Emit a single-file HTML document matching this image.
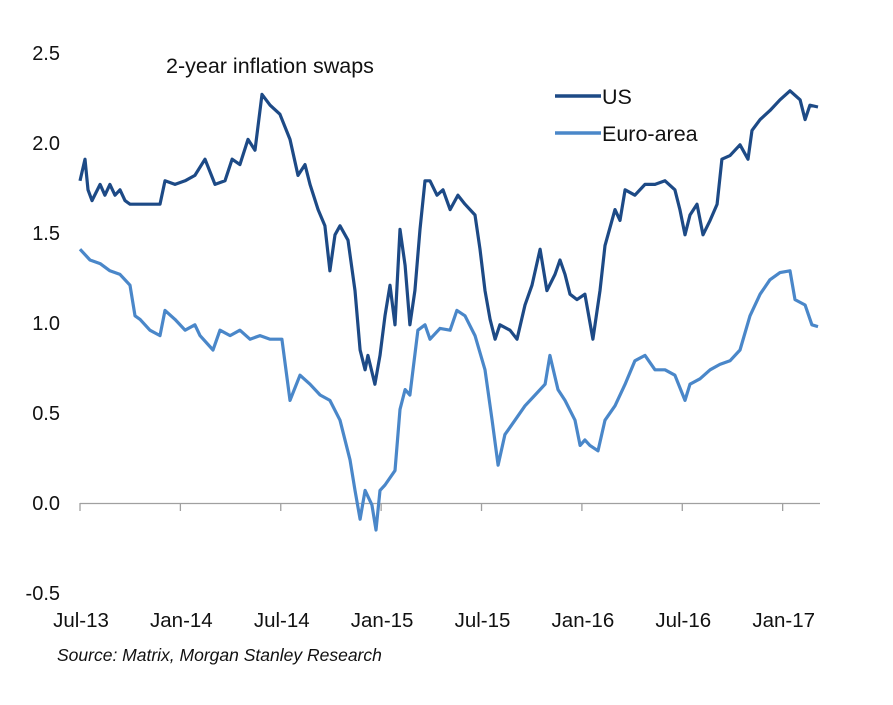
<!DOCTYPE html>
<html><head><meta charset="utf-8"><style>
body{margin:0;background:#fff;}
svg text{font-family:"Liberation Sans",Arial,sans-serif;fill:#111;}
</style></head><body>
<svg id="chart" width="893" height="700" viewBox="0 0 893 700" xmlns="http://www.w3.org/2000/svg">
<text x="166" y="73" font-size="21.5">2-year inflation swaps</text>
<g id="yaxis"></g>
<g id="xaxis"></g>
<g id="series"></g>
<g>
<line x1="555" y1="96" x2="601" y2="96" stroke="#1d4a86" stroke-width="3.5"/>
<text x="602" y="104" font-size="21.5">US</text>
<line x1="555" y1="133" x2="601" y2="133" stroke="#4a87c9" stroke-width="3.5"/>
<text x="602" y="141" font-size="21.5">Euro-area</text>
</g>
<text x="57" y="661" font-size="17.5" font-style="italic">Source: Matrix,  Morgan Stanley Research</text>
</svg>
<script>
const yTicks=[2.5,2.0,1.5,1.0,0.5,0.0,-0.5];
const xTickLabels=["Jul-13","Jan-14","Jul-14","Jan-15","Jul-15","Jan-16","Jul-16","Jan-17"];
const usMonths=[0,.3,.48,.72,1.2,1.49,1.79,2.09,2.39,2.69,2.99,3.59,4.18,4.78,5.08,5.68,6.28,6.87,7.47,8.07,8.67,9.09,9.56,10.04,10.46,10.88,11.36,11.95,12.55,13.03,13.45,13.75,14.23,14.64,14.94,15.24,15.54,16.02,16.44,16.74,17.04,17.21,17.63,17.93,18.23,18.53,18.83,19.13,19.43,19.72,20.02,20.32,20.62,20.92,21.34,21.7,22.12,22.59,23.01,23.61,23.91,24.21,24.51,24.81,25.1,25.7,26.12,26.6,27.02,27.5,27.91,28.39,28.69,28.99,29.29,29.71,30.18,30.66,31.08,31.38,31.98,32.28,32.58,33.17,33.77,34.37,34.97,35.56,35.86,36.16,36.46,36.88,37.24,37.66,38.08,38.37,38.85,39.45,39.93,40.17,40.65,41.24,41.84,42.44,43.04,43.34,43.63,44.11];
const usValues=[1.79,1.91,1.74,1.68,1.77,1.71,1.77,1.71,1.74,1.68,1.66,1.66,1.66,1.66,1.79,1.77,1.79,1.82,1.91,1.77,1.79,1.91,1.88,2.02,1.96,2.27,2.21,2.16,2.02,1.82,1.88,1.77,1.63,1.54,1.29,1.49,1.54,1.46,1.18,0.85,0.74,0.82,0.66,0.82,1.04,1.21,0.99,1.52,1.32,0.99,1.18,1.52,1.79,1.79,1.71,1.74,1.63,1.71,1.66,1.6,1.41,1.18,1.02,0.91,0.99,0.96,0.91,1.1,1.21,1.41,1.18,1.27,1.35,1.27,1.16,1.13,1.16,0.91,1.18,1.43,1.63,1.57,1.74,1.71,1.77,1.77,1.79,1.74,1.63,1.49,1.6,1.66,1.49,1.57,1.66,1.91,1.93,1.99,1.91,2.07,2.13,2.18,2.24,2.29,2.24,2.13,2.21,2.2];
const euroMonths=[0,.6,1.2,1.79,2.39,2.99,3.29,3.59,4.18,4.78,5.08,5.68,6.28,6.87,7.17,7.95,8.37,8.97,9.56,10.16,10.76,11.36,12.07,12.55,13.15,13.75,14.35,14.94,15.54,16.14,16.44,16.74,17.04,17.45,17.69,17.93,18.23,18.83,19.13,19.43,19.72,20.2,20.62,20.92,21.52,22.12,22.53,23.01,23.61,24.21,24.63,24.99,25.4,26.0,26.6,27.2,27.8,28.09,28.57,28.99,29.59,29.89,30.18,30.48,30.96,31.38,31.98,32.58,33.17,33.77,34.37,34.97,35.56,36.16,36.46,37.06,37.66,38.25,38.85,39.45,40.05,40.65,41.24,41.84,42.44,42.74,43.34,43.75,44.11];
const euroValues=[1.41,1.35,1.33,1.29,1.27,1.21,1.04,1.02,0.96,0.93,1.07,1.02,0.96,0.99,0.93,0.85,0.96,0.93,0.96,0.91,0.93,0.91,0.91,0.57,0.71,0.66,0.6,0.57,0.46,0.24,0.07,-0.09,0.07,-0.01,-0.15,0.07,0.1,0.18,0.52,0.63,0.6,0.96,0.99,0.91,0.97,0.96,1.07,1.04,0.93,0.74,0.46,0.21,0.38,0.46,0.54,0.6,0.66,0.82,0.63,0.57,0.46,0.32,0.35,0.32,0.29,0.46,0.54,0.66,0.79,0.82,0.74,0.74,0.71,0.57,0.66,0.69,0.74,0.77,0.79,0.85,1.04,1.16,1.24,1.28,1.29,1.13,1.1,0.99,0.98];

const NS="http://www.w3.org/2000/svg";
const y=v=>503-v*180;
const x=m=>80+m*16.73;
const mk=(tag,attrs,parent)=>{const e=document.createElementNS(NS,tag);for(const k in attrs)e.setAttribute(k,attrs[k]);parent.appendChild(e);return e;};
const ya=document.getElementById('yaxis'),xa=document.getElementById('xaxis'),sg=document.getElementById('series');
yTicks.forEach(v=>{
  const t=mk('text',{x:60,y:y(v)+7,'font-size':20,'text-anchor':'end'},ya);
  
  
  t.textContent=v.toFixed(1);
});
const ax=mk('line',{x1:80,y1:503.5,x2:820,y2:503.5,stroke:'#a0a0a0','stroke-width':1.3},xa);


xTickLabels.forEach((l,i)=>{
  const px=x(i*6);
  const tk=mk('line',{x1:px,y1:503,x2:px,y2:511,stroke:'#a0a0a0','stroke-width':1.3},xa);
  
  
  const t=mk('text',{x:px+1,y:627,'font-size':20.5,'text-anchor':'middle'},xa);
  
  
  t.textContent=l;
});
function line(ms,vs,color,name){
  const d=ms.map((m,i)=>(i?'L':'M')+x(m).toFixed(1)+','+y(vs[i]).toFixed(1)).join('');
  const p=mk('path',{d:d,fill:'none',stroke:color,'stroke-width':3.2,'stroke-linejoin':'round'},sg);
  
  
}
line(euroMonths,euroValues,'#4a87c9','euro-area-line');
line(usMonths,usValues,'#1d4a86','us-line');
</script>
</body></html>
